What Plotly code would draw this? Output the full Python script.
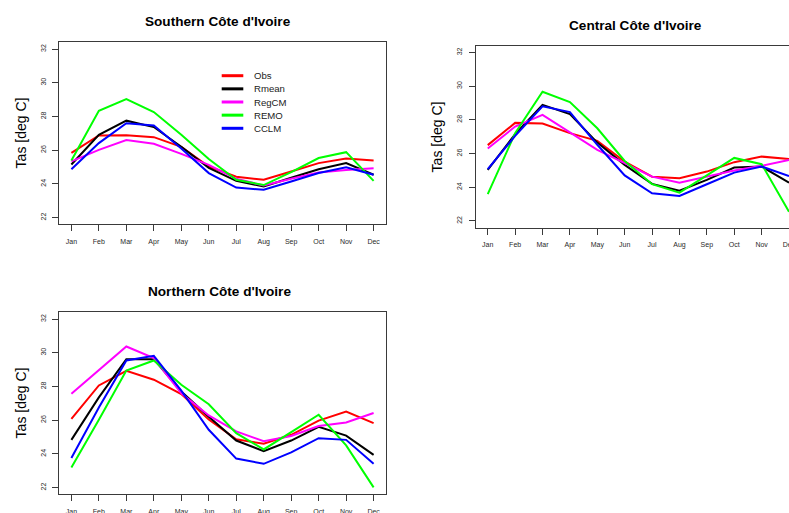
import plotly.graph_objects as go

# Monthly mean near-surface temperature (Tas, deg C) for three regions of Côte d'Ivoire
months = ["Jan", "Feb", "Mar", "Apr", "May", "Jun", "Jul", "Aug", "Sep", "Oct", "Nov", "Dec"]
month_idx = list(range(1, 13))

series_names = ["Obs", "Rmean", "RegCM", "REMO", "CCLM"]
series_colors = ["#FF0000", "#000000", "#FF00FF", "#00FF00", "#0000FF"]

# Southern Côte d'Ivoire
south_obs = [25.84, 26.87, 26.89, 26.77, 26.20, 25.03, 24.42, 24.24, 24.73, 25.23, 25.50, 25.38]
south_rmean = [25.15, 26.91, 27.75, 27.37, 26.20, 24.95, 24.18, 23.84, 24.36, 24.87, 25.23, 24.54]
south_regcm = [25.33, 26.02, 26.60, 26.38, 25.78, 25.13, 24.30, 23.90, 24.30, 24.68, 24.82, 24.93]
south_remo = [25.39, 28.34, 29.03, 28.26, 26.92, 25.47, 24.24, 23.93, 24.70, 25.53, 25.88, 24.18]
south_cclm = [24.87, 26.42, 27.60, 27.46, 26.10, 24.64, 23.78, 23.65, 24.14, 24.64, 24.99, 24.54]

# Central Côte d'Ivoire
central_obs = [26.50, 27.82, 27.78, 27.21, 26.75, 25.52, 24.63, 24.54, 24.93, 25.49, 25.82, 25.67]
central_rmean = [25.03, 27.15, 28.89, 28.34, 26.65, 25.33, 24.20, 23.80, 24.44, 25.17, 25.23, 24.27]
central_regcm = [26.30, 27.60, 28.30, 27.25, 26.22, 25.43, 24.63, 24.27, 24.63, 24.99, 25.27, 25.62]
central_remo = [23.59, 27.21, 29.67, 29.05, 27.50, 25.56, 24.18, 23.68, 24.71, 25.74, 25.37, 22.55]
central_cclm = [25.07, 27.05, 28.80, 28.46, 26.52, 24.70, 23.64, 23.48, 24.18, 24.87, 25.23, 24.67]

# Northern Côte d'Ivoire
north_obs = [26.08, 28.06, 28.93, 28.40, 27.55, 26.04, 24.86, 24.60, 25.13, 25.97, 26.51, 25.82]
north_rmean = [24.83, 27.35, 29.62, 29.62, 27.70, 26.20, 24.79, 24.16, 24.79, 25.60, 25.08, 23.94]
north_regcm = [27.56, 28.99, 30.37, 29.68, 27.60, 26.28, 25.33, 24.75, 25.06, 25.65, 25.86, 26.42]
north_remo = [23.19, 26.02, 28.95, 29.54, 28.10, 26.94, 25.23, 24.26, 25.29, 26.32, 24.50, 22.01]
north_cclm = [23.75, 26.75, 29.54, 29.82, 27.75, 25.43, 23.72, 23.41, 24.09, 24.93, 24.83, 23.41]

y_ticks = [22, 24, 26, 28, 30, 32]

W, H = 789, 513
FONT = "Liberation Sans"


def fx(p):
    return p / W


def fy(p):
    return 1 - p / H


# frame boxes in pixels: left, top, right, bottom
panels = [
    dict(title="Southern Côte d'Ivoire", data=[south_obs, south_rmean, south_regcm, south_remo, south_cclm],
         box=(59.3, 42.3, 385.7, 224.3), xmax=12.44, title_xy=(217.5, 21.7), ylab_xy=(20.7, 132.7),
         mirror_y=True),
    dict(title="Central Côte d'Ivoire", data=[central_obs, central_rmean, central_regcm, central_remo, central_cclm],
         box=(475.7, 45.7, 789.0, 227.7), xmax=12.0, title_xy=(635.2, 25.0), ylab_xy=(436.7, 136.7),
         mirror_y=False),
    dict(title="Northern Côte d'Ivoire", data=[north_obs, north_rmean, north_regcm, north_remo, north_cclm],
         box=(59.3, 312.3, 385.7, 494.3), xmax=12.44, title_xy=(219.7, 291.7), ylab_xy=(20.7, 402.7),
         mirror_y=True),
]

fig = go.Figure()
annotations = []
shapes = []
layout_axes = {}

axis_common = dict(
    showline=True, linecolor="#3a3a3a", linewidth=1,
    ticks="outside", ticklen=6, tickcolor="#3a3a3a", tickwidth=1,
    showgrid=False, zeroline=False, ticklabelstandoff=4, automargin=False,
    tickfont=dict(family=FONT, size=7, color="#2a2a2a"),
)

for i, p in enumerate(panels, start=1):
    xa = "x" if i == 1 else f"x{i}"
    ya = "y" if i == 1 else f"y{i}"
    left, top, right, bottom = p["box"]
    for name, color, vals in zip(series_names, series_colors, p["data"]):
        fig.add_trace(go.Scatter(
            x=month_idx, y=vals, mode="lines", name=name,
            line=dict(color=color, width=2), xaxis=xa, yaxis=ya,
            showlegend=False, hoverinfo="skip",
        ))
    xaxis = dict(
        axis_common, domain=[fx(left), min(1.0, fx(right))], anchor=ya,
        range=[0.56, p["xmax"]], tickmode="array", tickvals=month_idx, ticktext=months,
        mirror=True,
    )
    if right >= W:
        # the last month label runs past the right edge of the page
        xaxis["ticklabeloverflow"] = "allow"
    layout_axes["xaxis" if i == 1 else f"xaxis{i}"] = xaxis
    layout_axes["yaxis" if i == 1 else f"yaxis{i}"] = dict(
        axis_common, domain=[fy(bottom), fy(top)], anchor=xa,
        range=[21.6, 32.4], tickmode="array", tickvals=y_ticks, tickangle=-90,
        mirror=p["mirror_y"],
    )
    tx, ty = p["title_xy"]
    annotations.append(dict(
        text=f"<b>{p['title']}</b>", x=fx(tx), y=fy(ty), xref="paper", yref="paper",
        xanchor="center", yanchor="middle", showarrow=False,
        font=dict(family=FONT, size=13.6, color="#000000"),
    ))
    lx, ly = p["ylab_xy"]
    annotations.append(dict(
        text="Tas [deg C]", x=fx(lx), y=fy(ly), xref="paper", yref="paper",
        xanchor="center", yanchor="middle", showarrow=False, textangle=-90,
        font=dict(family=FONT, size=14, color="#000000"),
    ))

# Legend drawn inside the southern panel
leg_x0, leg_x1, leg_tx = 221.7, 243.3, 251.7
leg_y0, leg_dy = 75.7, 13.15
for k, (name, color) in enumerate(zip(series_names, series_colors)):
    yy = leg_y0 + k * leg_dy
    shapes.append(dict(type="line", xref="paper", yref="paper",
                       x0=fx(leg_x0), x1=fx(leg_x1), y0=fy(yy), y1=fy(yy),
                       line=dict(color=color, width=3)))
    annotations.append(dict(
        text=name, x=fx(leg_tx), y=fy(yy), xref="paper", yref="paper",
        xanchor="left", yanchor="middle", showarrow=False,
        font=dict(family=FONT, size=9.6, color="#222222"),
    ))

fig.update_layout(
    width=W, height=H,
    margin=dict(l=0, r=0, t=0, b=0, autoexpand=False),
    paper_bgcolor="#FFFFFF", plot_bgcolor="#FFFFFF",
    showlegend=False,
    annotations=annotations,
    shapes=shapes,
    **layout_axes,
)

fig.write_html("out.html")
